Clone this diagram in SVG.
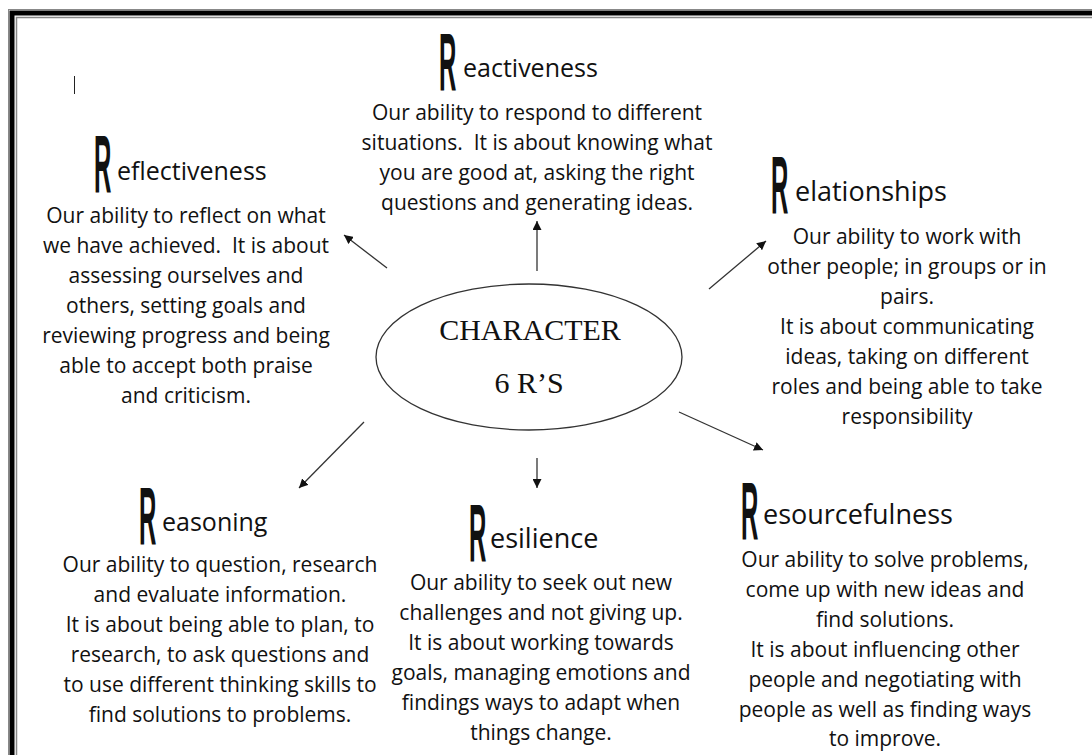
<svg xmlns="http://www.w3.org/2000/svg" width="1092" height="755" viewBox="0 0 1092 755">
<style>
.b{font-family:"Open Sans","Liberation Sans",sans-serif;font-size:21px;fill:#111;text-anchor:middle;white-space:pre}
.h{font-family:"Open Sans","Liberation Sans",sans-serif;font-size:25px;fill:#111}
.h2{font-family:"Open Sans","Liberation Sans",sans-serif;font-size:27px;fill:#111}
.R{font-family:"Liberation Sans",sans-serif;font-size:40px;font-weight:bold;fill:#111}
.c{font-family:"Liberation Serif",serif;font-size:30px;fill:#111;text-anchor:middle}
.con line{stroke:#333;stroke-width:1.3;marker-end:url(#ah)}
</style>
<defs>
<marker id="ah" viewBox="0 0 10 10" refX="10" refY="5" markerWidth="9" markerHeight="9" markerUnits="userSpaceOnUse" orient="auto">
<path d="M0,0 L10,5 L0,10 z" fill="#111"/>
</marker>
</defs>
<rect width="1092" height="755" fill="#fff"/>
<g id="frame" fill="none">
<rect x="8.5" y="9.5" width="1200" height="900" stroke="#888" stroke-width="1"/>
<rect x="12" y="13" width="1200" height="900" stroke="#000" stroke-width="5"/>
<rect x="16.5" y="17.5" width="1200" height="900" stroke="#888" stroke-width="1.5"/>
</g>
<line x1="74.5" y1="76" x2="74.5" y2="94" stroke="#222" stroke-width="1"/>

<g id="center">
<ellipse cx="529" cy="357" rx="153" ry="73" fill="none" stroke="#333" stroke-width="1.3"/>
<text class="c" x="530" y="340">CHARACTER</text>
<text class="c" x="529" y="393">6 R’S</text>
</g>

<g class="con" id="connectors">
<line x1="387" y1="268" x2="344" y2="235"/>
<line x1="537" y1="271" x2="537" y2="221"/>
<line x1="709" y1="289" x2="766" y2="241"/>
<line x1="679" y1="412" x2="763" y2="450"/>
<line x1="364" y1="422" x2="299" y2="488"/>
<line x1="537" y1="458" x2="537" y2="488"/>
</g>

<g id="reactiveness">
<text class="R" transform="translate(439,90) scale(0.6,2.05)">R</text>
<text class="h" x="463" y="77">eactiveness</text>
<text class="b" x="537" y="120">Our ability to respond to different</text>
<text class="b" x="537" y="150">situations.  It is about knowing what</text>
<text class="b" x="537" y="180">you are good at, asking the right</text>
<text class="b" x="537" y="210">questions and generating ideas.</text>
</g>

<g id="reflectiveness">
<text class="R" transform="translate(94,192) scale(0.6,2.05)">R</text>
<text class="h" x="117" y="180">eflectiveness</text>
<text class="b" x="186" y="223">Our ability to reflect on what</text>
<text class="b" x="186" y="253">we have achieved.  It is about</text>
<text class="b" x="186" y="283">assessing ourselves and</text>
<text class="b" x="186" y="313">others, setting goals and</text>
<text class="b" x="186" y="343">reviewing progress and being</text>
<text class="b" x="186" y="373">able to accept both praise</text>
<text class="b" x="186" y="403">and criticism.</text>
</g>

<g id="relationships">
<text class="R" transform="translate(771,213) scale(0.6,2.05)">R</text>
<text class="h2" x="795" y="201">elationships</text>
<text class="b" x="907" y="244">Our ability to work with</text>
<text class="b" x="907" y="274">other people; in groups or in</text>
<text class="b" x="907" y="304">pairs.</text>
<text class="b" x="907" y="334">It is about communicating</text>
<text class="b" x="907" y="364">ideas, taking on different</text>
<text class="b" x="907" y="394">roles and being able to take</text>
<text class="b" x="907" y="424">responsibility</text>
</g>

<g id="reasoning">
<text class="R" transform="translate(139,544) scale(0.6,2.05)">R</text>
<text class="h" x="162" y="531">easoning</text>
<text class="b" x="220" y="572">Our ability to question, research</text>
<text class="b" x="220" y="602">and evaluate information.</text>
<text class="b" x="220" y="632">It is about being able to plan, to</text>
<text class="b" x="220" y="662">research, to ask questions and</text>
<text class="b" x="220" y="692">to use different thinking skills to</text>
<text class="b" x="220" y="722">find solutions to problems.</text>
</g>

<g id="resilience">
<text class="R" transform="translate(469,561) scale(0.6,2.05)">R</text>
<text class="h2" x="490" y="548">esilience</text>
<text class="b" x="541" y="590">Our ability to seek out new</text>
<text class="b" x="541" y="620">challenges and not giving up.</text>
<text class="b" x="541" y="650">It is about working towards</text>
<text class="b" x="541" y="680">goals, managing emotions and</text>
<text class="b" x="541" y="710">findings ways to adapt when</text>
<text class="b" x="541" y="740">things change.</text>
</g>

<g id="resourcefulness">
<text class="R" transform="translate(741,539) scale(0.6,2.05)">R</text>
<text class="h2" x="763" y="524">esourcefulness</text>
<text class="b" x="885" y="567">Our ability to solve problems,</text>
<text class="b" x="885" y="597">come up with new ideas and</text>
<text class="b" x="885" y="627">find solutions.</text>
<text class="b" x="885" y="657">It is about influencing other</text>
<text class="b" x="885" y="687">people and negotiating with</text>
<text class="b" x="885" y="717">people as well as finding ways</text>
<text class="b" x="885" y="746">to improve.</text>
</g>
</svg>
